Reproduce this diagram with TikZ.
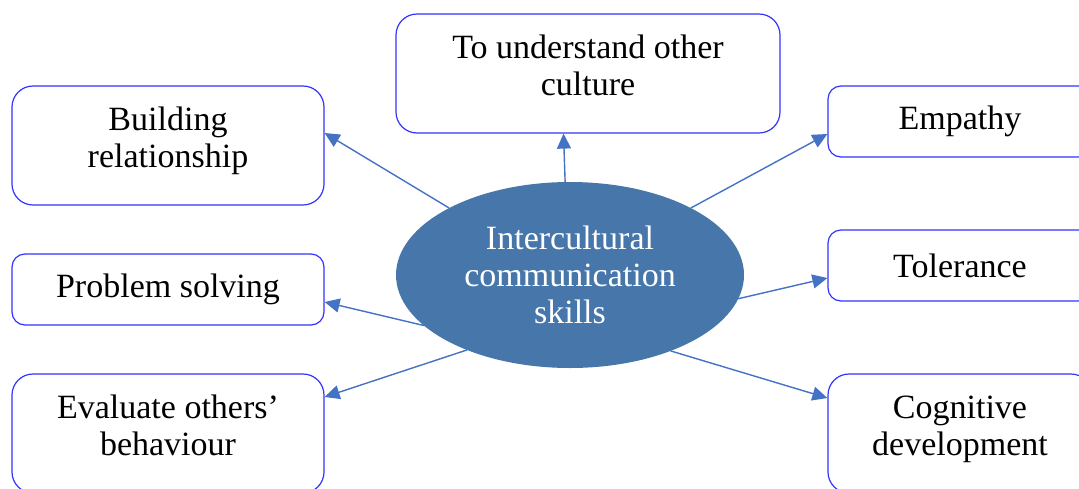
\documentclass[tikz,border=0pt]{standalone}
\usepackage{fontspec}
\setmainfont{Liberation Serif}
\usepackage{tikz}
\usetikzlibrary{arrows.meta,shapes.geometric}

\definecolor{boxline}{RGB}{51,51,255}
\definecolor{arrline}{RGB}{68,114,196}
\definecolor{ellfill}{RGB}{70,118,170}

\begin{document}
\begin{tikzpicture}[line cap=round,line join=round,x=1pt,y=-1pt,
  font=\fontsize{34}{37}\selectfont,
  skillbox/.style={draw=boxline,line width=1.2pt,fill=white,align=center,inner sep=0pt},
  tallbox/.style={skillbox,rounded corners=21pt,minimum height=119pt,text depth=16pt},
  lowbox/.style={skillbox,rounded corners=13pt,minimum height=71pt},
  arr/.style={-{Triangle[length=15pt,width=14pt]},draw=arrline,fill=arrline,line width=1.4pt}]

\useasboundingbox (0,0) rectangle (1079,488);

% centre
\node[ellipse,fill=ellfill,text=white,align=center,inner sep=0pt,
  minimum width=348pt,minimum height=186pt] (ics) at (570,275)
  {Intercultural\\communication\\skills};

% left column
\node[tallbox,minimum width=312pt] (build) at (168,145.5) {Building\\relationship};
\node[lowbox,minimum width=312pt] (prob) at (168,289.5) {Problem solving};
\node[tallbox,minimum width=312pt] (eval) at (168,433.5) {Evaluate others’\\behaviour};

% top
\node[tallbox,minimum width=384pt] (under) at (588,73.5) {To understand other\\culture};

% right column
\node[lowbox,minimum width=264pt] (emp) at (960,121.5) {Empathy};
\node[lowbox,minimum width=264pt] (tol) at (960,265.5) {Tolerance};
\node[tallbox,minimum width=264pt] (cog) at (960,433.5) {Cognitive\\development};

% arrows
\draw[arr] (ics.151) -- ([yshift=12.5pt]build.east);
\draw[arr] (ics.93) -- ([xshift=-24.5pt]under.south);
\draw[arr] (ics.29) -- ([yshift=-12.5pt]emp.west);
\draw[arr] (ics.-8) -- ([yshift=-12.5pt]tol.west);
\draw[arr] (ics.-37) -- ([yshift=35.5pt]cog.west);
\draw[arr] (ics.199) -- ([yshift=-12.5pt]prob.east);
\draw[arr] (ics.216) -- ([yshift=36.5pt]eval.east);

\end{tikzpicture}
\end{document}
